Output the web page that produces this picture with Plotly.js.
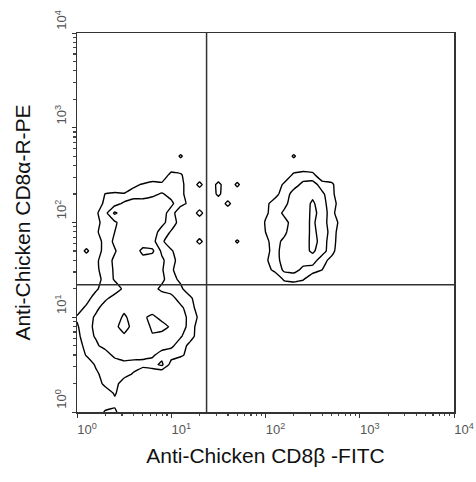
<!DOCTYPE html>
<html>
<head>
<meta charset="utf-8">
<script src="https://cdn.plot.ly/plotly-3.0.1.min.js"></script>
<style>html,body{margin:0;padding:0;background:#fff;}#chart{width:476px;height:482px;}</style>
</head>
<body>
<div id="chart"></div>
<script>
// Grid of log10 channel positions (decades) on which the density was read
const xExp = [0,0.1,0.2,0.3,0.4,0.5,0.6,0.7,0.8,0.9,1.0,1.1,1.2,1.3,1.4,1.5,1.6,1.7,1.8,1.9,2.0,2.1,2.2,2.3,2.4,2.5,2.6,2.7,2.8,2.9];
const yExp = [0,0.1,0.2,0.3,0.4,0.5,0.6,0.7,0.8,0.9,1.0,1.1,1.2,1.3,1.4,1.5,1.6,1.7,1.8,1.9,2.0,2.1,2.2,2.3,2.4,2.5,2.6,2.7,2.8,2.9];

// Estimated event density (rows = CD8alpha decades, cols = CD8beta decades)
const density = [
 [0,0,0,1.2,1.3,0,0,0,0,0,0,0,0,0,0,0,0,0,0,0,0,0,0,0,0,0,0,0,0,0],
 [0,0,0,0,0.6,0,0,0,0,0,0,0,0,0,0,0,0,0,0,0,0,0,0,0,0,0,0,0,0,0],
 [0,0,0,0,1.2,0,0,0,0,0,0,0,0,0,0,0,0,0,0,0,0,0,0,0,0,0,0,0,0,0],
 [0,0,0,1.5,1.7,0,0,0,0,0,0,0,0,0,0,0,0,0,0,0,0,0,0,0,0,0,0,0,0,0],
 [0,0,0.7,1.6,1.4,1.7,0.8,0,0,0,0,0,0,0,0,0,0,0,0,0,0,0,0,0,0,0,0,0,0,0],
 [0,0,1.2,1.7,1.3,1.6,1.8,1.4,1.7,2.2,0.6,0,0,0,0,0,0,0,0,0,0,0,0,0,0,0,0,0,0,0],
 [0,1.1,1.6,1.4,2.3,2.6,2.2,2.5,2.1,1.7,1.4,1.2,0.6,0,0,0,0,0,0,0,0,0,0,0,0,0,0,0,0,0],
 [0.4,1.4,1.8,2.4,2.7,2.3,2.6,2.4,2.7,2.3,2.2,1.5,0.7,0,0,0,0,0,0,0,0,0,0,0,0,0,0,0,0,0],
 [0.7,1.6,2.1,2.6,2.4,2.8,2.3,2.6,2.9,2.5,2.6,2.1,1.4,0.5,0,0,0,0,0,0,0,0,0,0,0,0,0,0,0,0],
 [0.9,1.5,2.3,2.5,2.7,3.5,2.6,2.4,3.2,3.5,2.8,2.4,1.7,0.3,0,0,0,0,0,0,0,0,0,0,0,0,0,0,0,0],
 [1.1,1.4,2.2,2.7,2.4,3.2,2.5,2.8,3.3,2.6,2.3,2.6,1.6,0.8,0,0,0,0,0,0,0,0,0,0,0,0,0,0,0,0],
 [0.5,1.2,1.7,2.5,2.3,2.7,2.4,2.6,2.3,2.7,2.5,2.2,1.5,0.4,0,0,0,0,0,0,0,0,0,0,0,0,0,0,0,0],
 [0,0.6,1.5,1.8,2.4,2.6,2.2,2.7,2.4,2.5,2.3,1.6,1.3,0,0,0,0,0,0,0,0,0,0,0,0,0,0,0,0,0],
 [0,0,0.8,1.6,1.5,2.2,2.4,2.1,2.3,1.8,1.6,1.3,0,0,0,0,0,0,0,0,0,0,0,0,0,0,0,0,0,0],
 [0,0,0.5,1.4,2.1,2.6,2.3,2.7,2.4,2.2,1.5,0.7,0,0,0,0,0,0,0,0,0,0,1.2,1.4,1.1,0,0,0,0,0],
 [0,0,0.7,1.6,2.1,2.3,2.8,2.5,2.6,2.1,1.3,0,0,0,0,0,0,0,0,0,0.5,1.3,2.2,2.3,1.8,1.6,1.0,0,0,0],
 [0,0,0.8,1.5,2.2,2.7,2.3,2.6,2.4,2.2,1.4,0.5,0,0,0,0,0,0,0,0,0.8,1.6,2.4,2.6,2.3,2.4,1.5,0.6,0,0],
 [0,1.3,0,1.7,1.9,2.6,2.4,3.3,3.2,1.8,1.2,0,0,0,0,0,0,0,0,0,0.6,1.5,2.6,2.3,2.6,3.2,2.4,1.5,0,0],
 [0,0,0.4,1.4,2.2,2.3,2.7,2.4,2.3,1.3,0,0,0,1.4,0,0,0,1.2,0,0,0.6,1.7,2.2,2.5,2.3,3.4,2.6,1.4,0.5,0],
 [0,0,0.8,1.6,2.0,2.8,2.3,2.6,2.5,1.6,0.9,0,0,0,0,0,0,0,0,0,1.0,1.3,1.8,2.6,2.4,3.3,2.5,1.7,0.3,0],
 [0,0,0.6,1.5,1.8,2.6,2.4,2.7,2.5,2.3,1.5,0.6,0,0,0,0,0,0,0,0,1.1,1.8,1.7,2.4,2.6,3.2,2.4,1.6,0.7,0],
 [0,0,0.8,1.7,3.2,2.4,2.6,2.3,2.7,2.4,1.6,0,0,1.5,0,0,0,0,0,0,0.8,1.5,2.2,2.5,2.3,3.3,2.6,1.5,0,0],
 [0,0,0,1.4,1.6,2.2,2.6,2.4,2.5,2.7,2.2,1.4,0.7,0,0,0,1.4,0,0,0,0.7,1.5,1.7,2.6,2.4,3.2,2.3,1.6,0.4,0],
 [0,0,0,1.05,1.2,1.1,1.4,1.6,1.8,2.1,1.7,1.5,0,0,0,1.3,0,0,0,0,0,0.6,1.6,2.3,2.5,2.7,2.2,1.4,0,0],
 [0,0,0,0,0,0,0.8,1.1,1.5,1.3,1.6,1.5,0,1.4,0,1.4,0,1.3,0,0,0,0,1.3,1.7,2.2,2.4,1.6,1.3,0,0],
 [0,0,0,0,0,0,0,0,0,0,1.5,1.2,0,0,0,0,0,0,0,0,0,0,0,1.3,1.6,1.4,0,0,0,0],
 [0,0,0,0,0,0,0,0,0,0,0,0,0,0,0,0,0,0,0,0,0,0,0,0,0,0,0,0,0,0],
 [0,0,0,0,0,0,0,0,0,0,0,1.2,0,0,0,0,0,0,0,0,0,0,0,1.2,0,0,0,0,0,0],
 [0,0,0,0,0,0,0,0,0,0,0,0,0,0,0,0,0,0,0,0,0,0,0,0,0,0,0,0,0,0],
 [0,0,0,0,0,0,0,0,0,0,0,0,0,0,0,0,0,0,0,0,0,0,0,0,0,0,0,0,0,0]
];

// Quadrant gate positions (channel values)
const gateX = 23.7;
const gateY = 22;

// Tick labels
const tickValues = [1, 10, 100, 1000, 10000];
const tickLabels = ['10<sup>0</sup>', '10<sup>1</sup>', '10<sup>2</sup>', '10<sup>3</sup>', '10<sup>4</sup>'];

const xTitle = 'Anti-Chicken CD8β -FITC';
const yTitle = 'Anti-Chicken CD8α-R-PE';

const minorVals = [];
for (let d = 0; d < 4; d++) for (let k = 2; k < 10; k++) minorVals.push(k * Math.pow(10, d));

const xs = xExp.map(e => Math.pow(10, e));
const ys = yExp.map(e => Math.pow(10, e));

const trace = {
  type: 'contour',
  x: xs, y: ys, z: density,
  contours: {coloring: 'lines', start: 1, end: 3, size: 1},
  colorscale: [[0, '#000'], [1, '#000']],
  showscale: false,
  line: {width: 1.4, smoothing: 0.2, color: '#000'},
  hoverinfo: 'skip'
};

const FONT = 'Liberation Sans, Arial, sans-serif';

const axisCommon = {
  type: 'log',
  range: [0, 4],
  tickmode: 'array',
  tickvals: tickValues,
  ticktext: tickLabels,
  ticks: 'outside',
  ticklen: 4,
  tickwidth: 1,
  tickcolor: '#333',
  showline: true,
  mirror: true,
  linecolor: '#333',
  linewidth: 1.5,
  showgrid: false,
  zeroline: false,
  tickfont: {family: FONT, size: 13, color: '#555'},
  minor: {tickmode: 'array', tickvals: minorVals, ticks: 'outside', ticklen: 2.5, tickwidth: 1.2, tickcolor: '#444', showgrid: false}
};

const layout = {
  width: 476, height: 482,
  margin: {l: 77, r: 22, t: 33, b: 70},
  paper_bgcolor: '#fff', plot_bgcolor: '#fff',
  showlegend: false,
  xaxis: Object.assign({}, axisCommon, {
    ticklabelshift: 10,
    ticklabelstandoff: 1,
    title: {text: xTitle, font: {family: FONT, size: 21, color: '#111'}, standoff: 12}
  }),
  yaxis: Object.assign({}, axisCommon, {
    tickangle: -90,
    ticklabelshift: -11,
    ticklabelstandoff: 0,
    title: {text: yTitle, font: {family: FONT, size: 21, color: '#111'}, standoff: 16}
  }),
  shapes: [
    {type: 'line', xref: 'x', yref: 'paper', x0: gateX, x1: gateX, y0: 0, y1: 1, line: {color: '#333', width: 1.5}},
    {type: 'line', xref: 'paper', yref: 'y', x0: 0, x1: 1, y0: gateY, y1: gateY, line: {color: '#333', width: 1.5}}
  ]
};

Plotly.newPlot('chart', [trace], layout, {displayModeBar: false, staticPlot: true});
</script>
</body>
</html>
